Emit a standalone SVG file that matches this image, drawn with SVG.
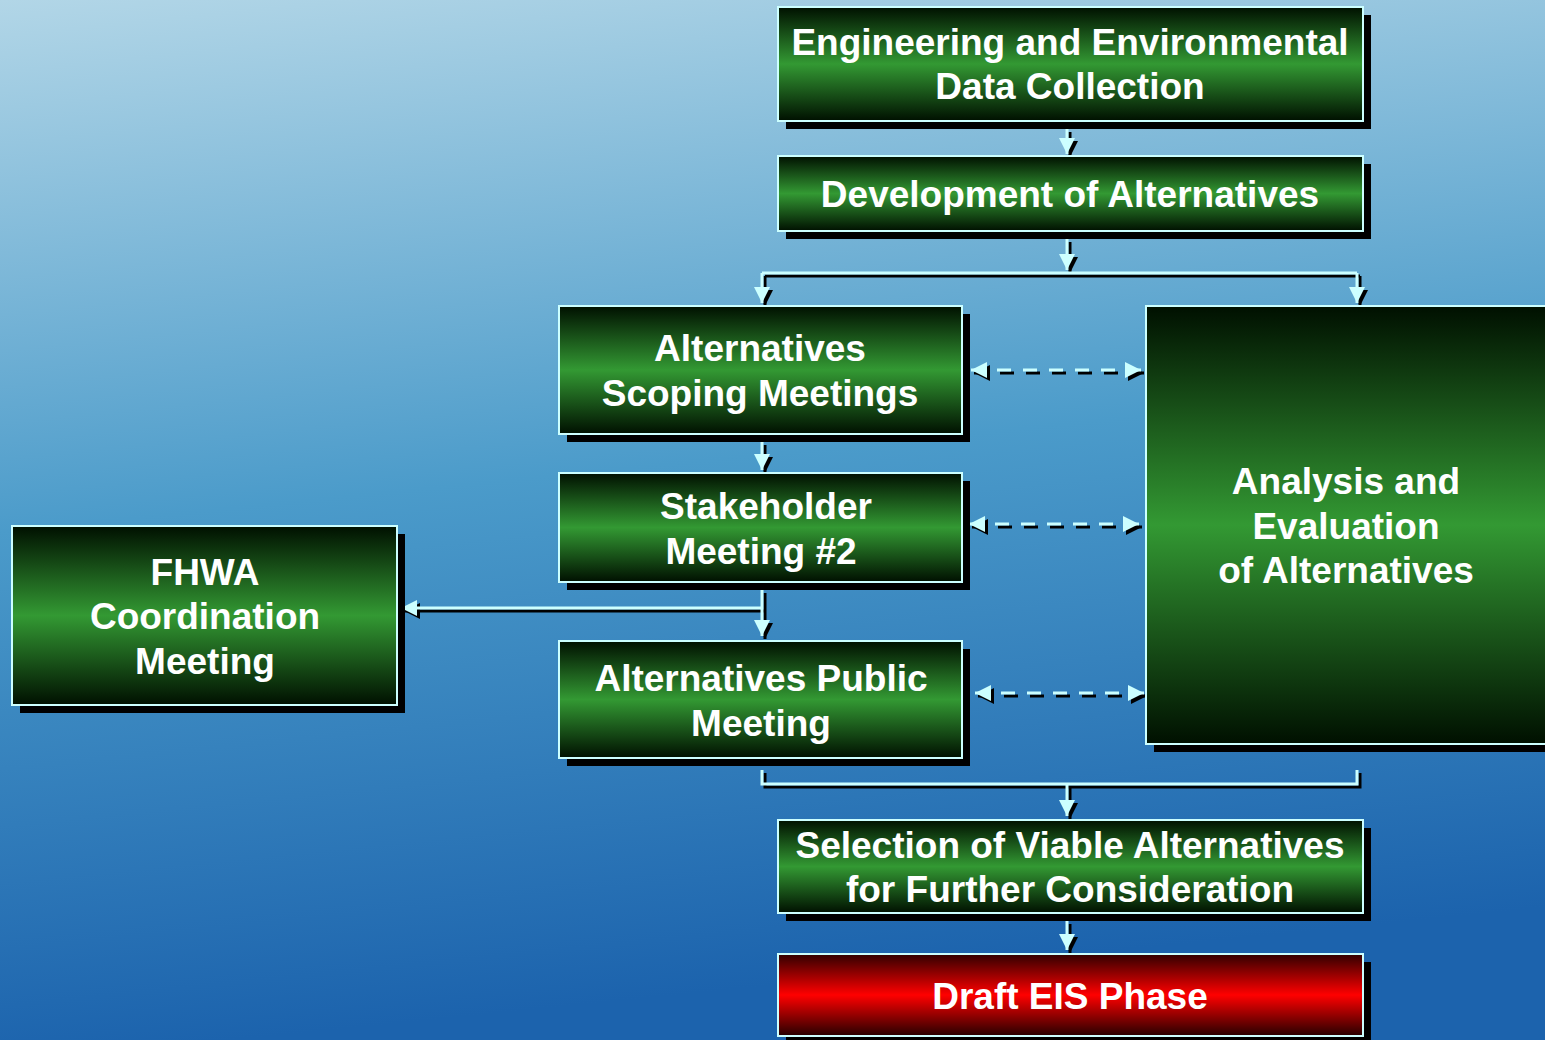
<svg xmlns="http://www.w3.org/2000/svg" width="1545" height="1040" viewBox="0 0 1545 1040">
  <defs>
    <linearGradient id="bg" x1="0" y1="0" x2="0.15" y2="1">
      <stop offset="0" stop-color="#b2d6e7"/>
      <stop offset="0.5" stop-color="#4b9bca"/>
      <stop offset="1" stop-color="#1c63ad"/>
    </linearGradient>
    <linearGradient id="green" x1="0" y1="0" x2="0" y2="1">
      <stop offset="0" stop-color="#001000"/>
      <stop offset="0.5" stop-color="#339933"/>
      <stop offset="1" stop-color="#001000"/>
    </linearGradient>
    <linearGradient id="red" x1="0" y1="0" x2="0" y2="1">
      <stop offset="0" stop-color="#300000"/>
      <stop offset="0.5" stop-color="#ff0000"/>
      <stop offset="1" stop-color="#250000"/>
    </linearGradient>
    <marker id="ah" markerUnits="userSpaceOnUse" markerWidth="16" markerHeight="16" refX="16" refY="8" orient="auto-start-reverse" viewBox="0 0 16 16">
      <path d="M0,0 L16,8 L0,16 z" fill="#ccffff"/>
    </marker>
    <marker id="ahs" markerUnits="userSpaceOnUse" markerWidth="16" markerHeight="16" refX="16" refY="8" orient="auto-start-reverse" viewBox="0 0 16 16">
      <path d="M0,0 L16,8 L0,16 z" fill="#000"/>
    </marker>
    <style>
      .box { stroke: #ccffff; stroke-width: 2; }
      .shadow { fill: #000; }
      .t { font-family: "Liberation Sans", Arial, sans-serif; font-weight: bold; font-size: 37px; fill: #ffffff; text-anchor: middle; }
      .ln { fill: none; stroke: #ccffff; stroke-width: 3; marker-end: url(#ah); }
      .lns { fill: none; stroke: #000; stroke-width: 3; marker-end: url(#ahs); }
      .nl { fill: none; stroke: #ccffff; stroke-width: 3; }
      .nls { fill: none; stroke: #000; stroke-width: 3; }
      .dl { fill: none; stroke: #ccffff; stroke-width: 3; stroke-dasharray: 14 12; marker-start: url(#ah); marker-end: url(#ah); }
      .dls { fill: none; stroke: #000; stroke-width: 3; stroke-dasharray: 14 12; marker-start: url(#ahs); marker-end: url(#ahs); }
    </style>
  </defs>

  <rect x="0" y="0" width="1545" height="1040" fill="url(#bg)"/>

  <g id="connectors">
    <g transform="translate(3,3)">
      <path class="lns" d="M1067,129 V154"/>
      <path class="lns" d="M1067,239 V270"/>
      <path class="nls" d="M762,273 H1357"/>
      <path class="lns" d="M762,273 V303"/>
      <path class="lns" d="M1357,273 V303"/>
      <path class="lns" d="M762,442 V470"/>
      <path class="lns" d="M762,590 V636"/>
      <path class="lns" d="M762,608 H401"/>
      <path class="nls" d="M762,770 V784 H1357 V770"/>
      <path class="lns" d="M1067,784 V816"/>
      <path class="lns" d="M1067,921 V950"/>
      <path class="dls" d="M971,370 H1141"/>
      <path class="dls" d="M969,524 H1139"/>
      <path class="dls" d="M975,693 H1144"/>
    </g>
    <path class="ln" d="M1067,129 V154"/>
    <path class="ln" d="M1067,239 V270"/>
    <path class="nl" d="M762,273 H1357"/>
    <path class="ln" d="M762,273 V303"/>
    <path class="ln" d="M1357,273 V303"/>
    <path class="ln" d="M762,442 V470"/>
    <path class="ln" d="M762,590 V636"/>
    <path class="ln" d="M762,608 H401"/>
    <path class="nl" d="M762,770 V784 H1357 V770"/>
    <path class="ln" d="M1067,784 V816"/>
    <path class="ln" d="M1067,921 V950"/>
    <path class="dl" d="M971,370 H1141"/>
    <path class="dl" d="M969,524 H1139"/>
    <path class="dl" d="M975,693 H1144"/>
  </g>

  <g id="node-engineering">
    <rect class="shadow" x="786" y="15" width="585" height="114"/>
    <rect class="box" x="778" y="7" width="585" height="114" fill="url(#green)"/>
    <text class="t" x="1070" y="55">Engineering and Environmental</text>
    <text class="t" x="1070" y="99">Data Collection</text>
  </g>

  <g id="node-development">
    <rect class="shadow" x="786" y="164" width="585" height="75"/>
    <rect class="box" x="778" y="156" width="585" height="75" fill="url(#green)"/>
    <text class="t" x="1070" y="207">Development of Alternatives</text>
  </g>

  <g id="node-scoping">
    <rect class="shadow" x="567" y="314" width="403" height="128"/>
    <rect class="box" x="559" y="306" width="403" height="128" fill="url(#green)"/>
    <text class="t" x="760" y="361">Alternatives</text>
    <text class="t" x="760" y="406">Scoping Meetings</text>
  </g>

  <g id="node-stakeholder">
    <rect class="shadow" x="567" y="481" width="403" height="109"/>
    <rect class="box" x="559" y="473" width="403" height="109" fill="url(#green)"/>
    <text class="t" x="766" y="519">Stakeholder</text>
    <text class="t" x="761" y="564">Meeting #2</text>
  </g>

  <g id="node-public">
    <rect class="shadow" x="567" y="649" width="403" height="117"/>
    <rect class="box" x="559" y="641" width="403" height="117" fill="url(#green)"/>
    <text class="t" x="761" y="691">Alternatives Public</text>
    <text class="t" x="761" y="736">Meeting</text>
  </g>

  <g id="node-fhwa">
    <rect class="shadow" x="20" y="534" width="385" height="179"/>
    <rect class="box" x="12" y="526" width="385" height="179" fill="url(#green)"/>
    <text class="t" x="205" y="585">FHWA</text>
    <text class="t" x="205" y="629">Coordination</text>
    <text class="t" x="205" y="674">Meeting</text>
  </g>

  <g id="node-analysis">
    <rect class="shadow" x="1154" y="314" width="400" height="438"/>
    <rect class="box" x="1146" y="306" width="410" height="438" fill="url(#green)"/>
    <text class="t" x="1346" y="494">Analysis and</text>
    <text class="t" x="1346" y="539">Evaluation</text>
    <text class="t" x="1346" y="583">of Alternatives</text>
  </g>

  <g id="node-selection">
    <rect class="shadow" x="786" y="828" width="585" height="93"/>
    <rect class="box" x="778" y="820" width="585" height="93" fill="url(#green)"/>
    <text class="t" x="1070" y="858">Selection of Viable Alternatives</text>
    <text class="t" x="1070" y="902">for Further Consideration</text>
  </g>

  <g id="node-draft">
    <rect class="shadow" x="786" y="962" width="585" height="82"/>
    <rect class="box" x="778" y="954" width="585" height="82" fill="url(#red)"/>
    <text class="t" x="1070" y="1009">Draft EIS Phase</text>
  </g>
</svg>
